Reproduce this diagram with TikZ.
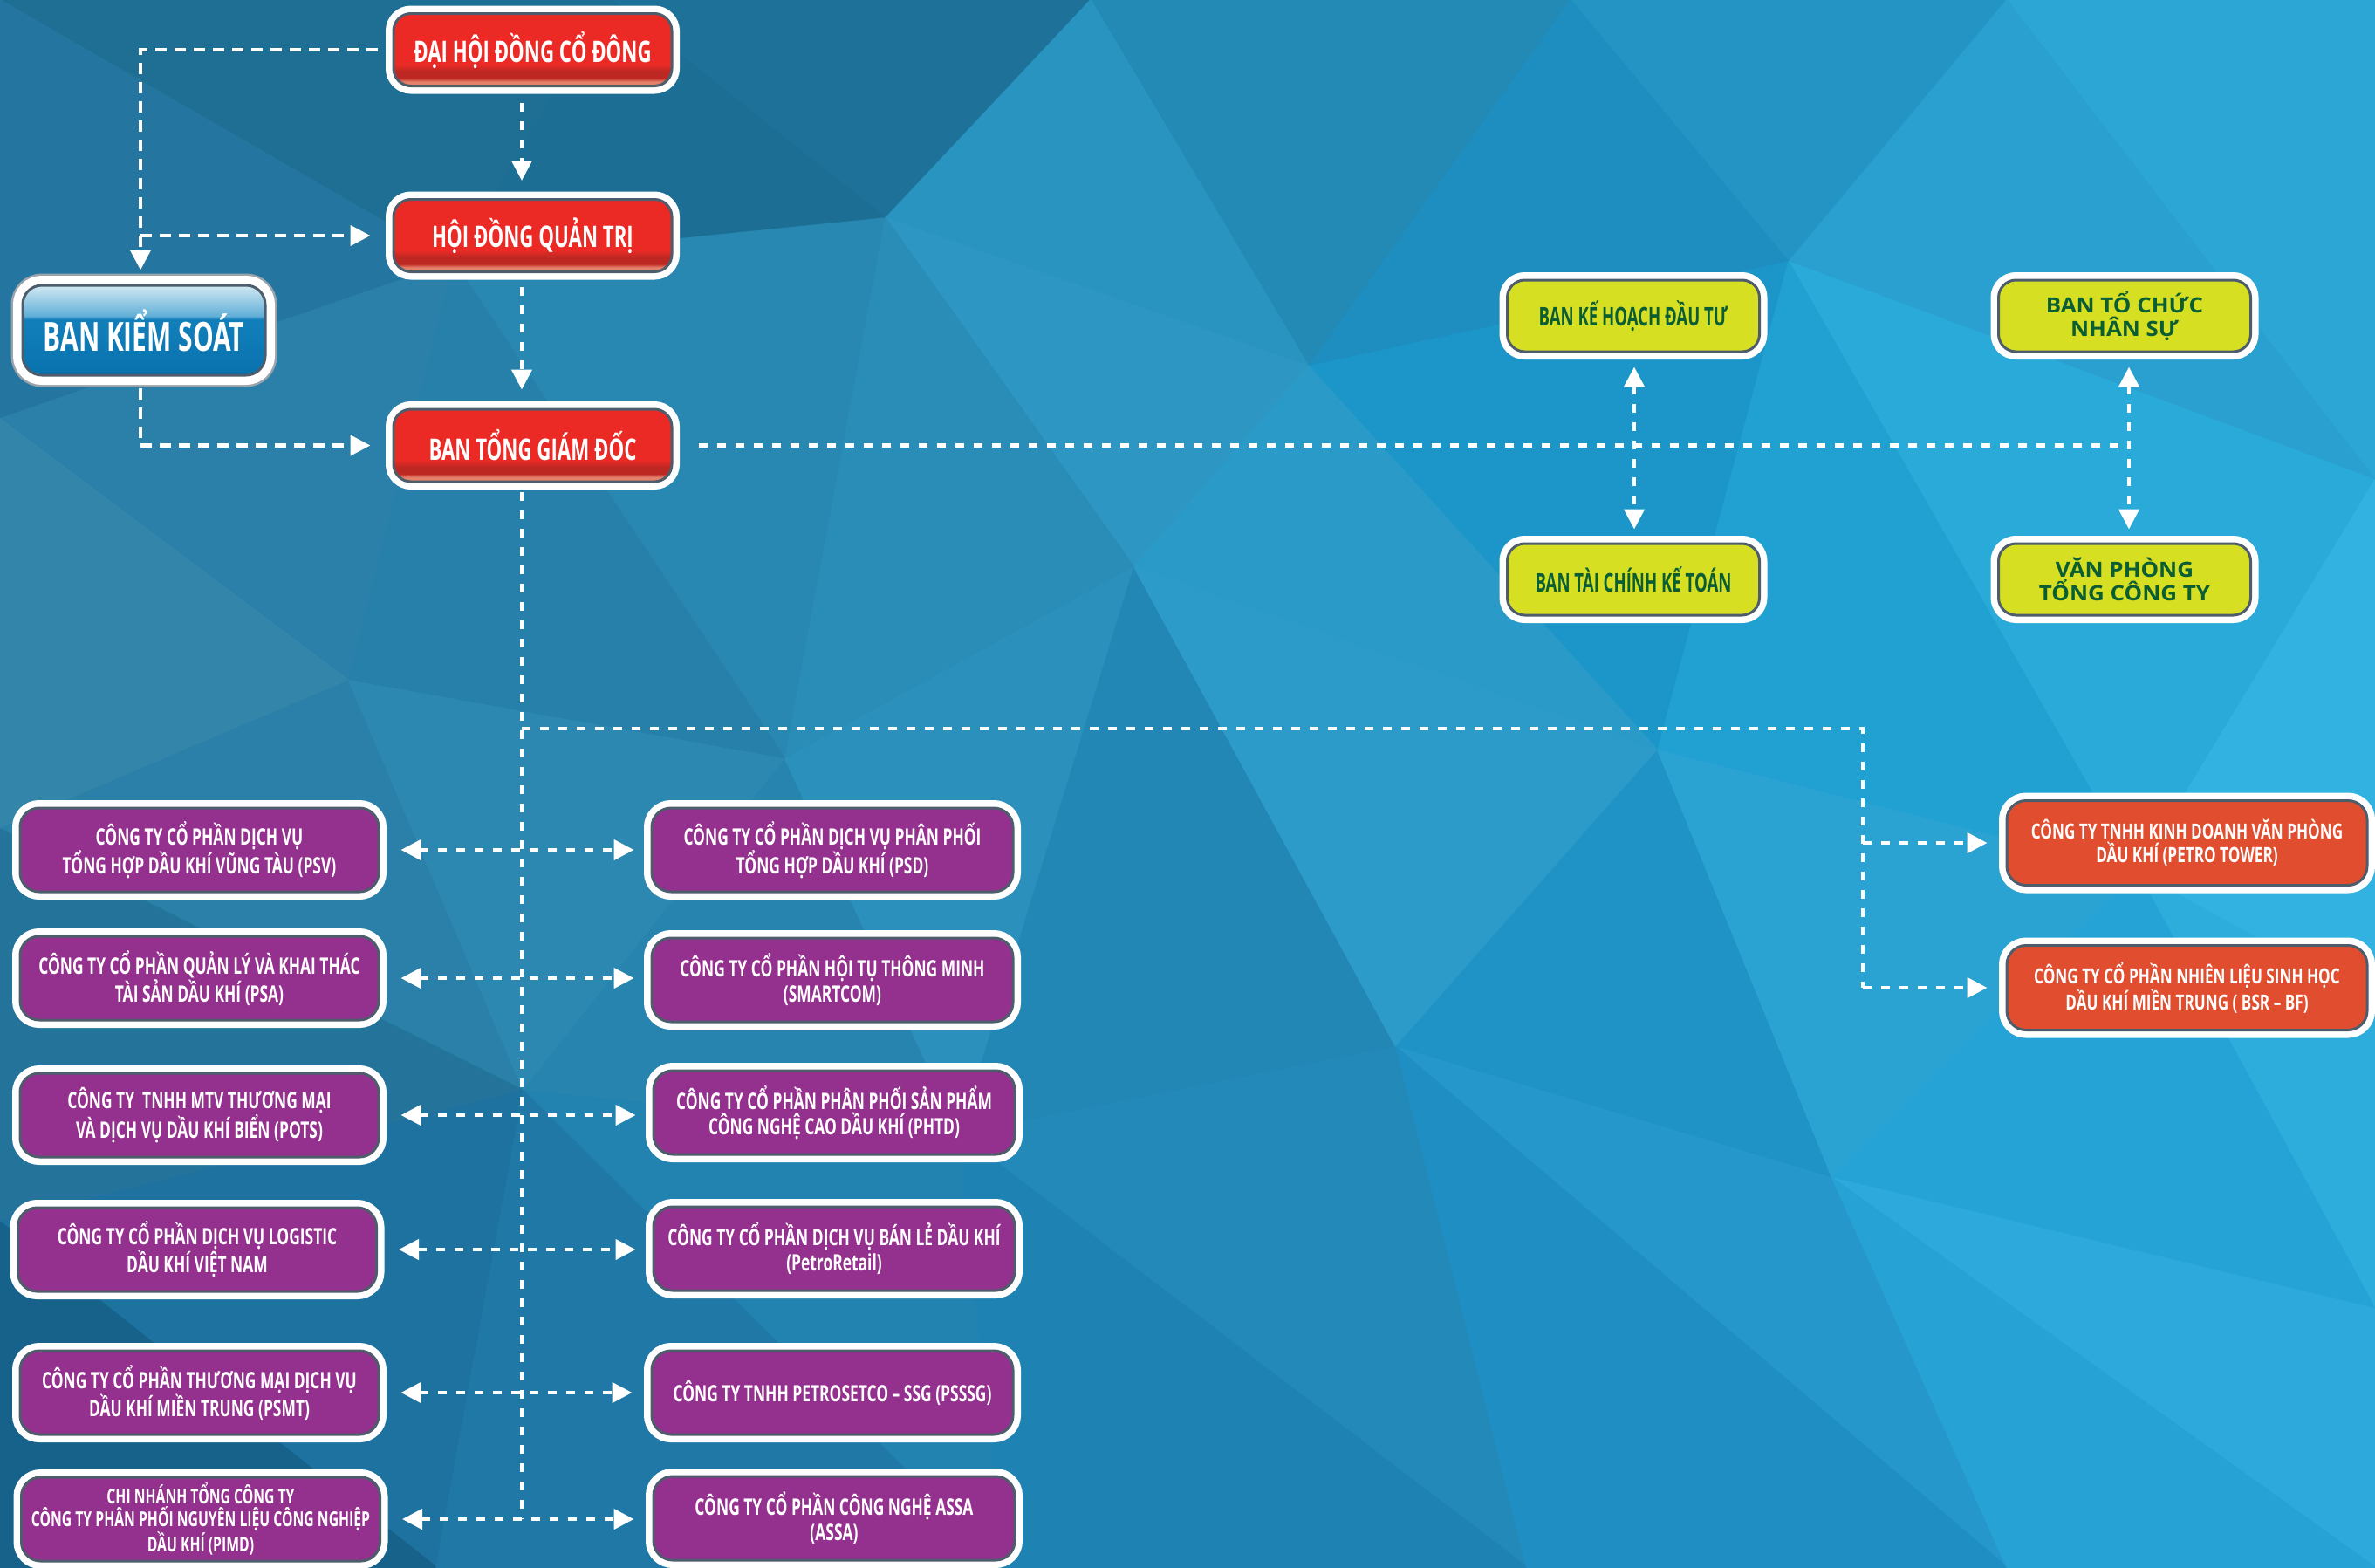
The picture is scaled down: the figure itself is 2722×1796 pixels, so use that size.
\documentclass[tikz,border=0pt]{standalone}
\usepackage{fontspec}
\newfontfamily\fR{Open Sans}[FakeStretch=0.655]
\newfontfamily\fB{Open Sans}[FakeStretch=0.65]
\newfontfamily\fY{Open Sans}[FakeStretch=0.63]
\newfontfamily\fW{Open Sans}[FakeStretch=1.08]
\newfontfamily\fP{Open Sans}[FakeStretch=0.67]
\newfontfamily\fO{Open Sans}[FakeStretch=0.715]
\usetikzlibrary{arrows.meta,calc}
\definecolor{edgeg}{HTML}{4E5D6C}
\definecolor{ringgray}{HTML}{9AA3AA}
\definecolor{redmain}{HTML}{EC2A25}
\definecolor{reddark}{HTML}{BD2823}
\definecolor{redlite}{HTML}{E5806A}
\definecolor{bluedk}{HTML}{0872AD}
\definecolor{bluemd}{HTML}{127FBB}
\definecolor{bluelt}{HTML}{62AFD8}
\definecolor{bluewt}{HTML}{D2E9F3}
\definecolor{purp}{HTML}{94318E}
\definecolor{yel}{HTML}{D6DF22}
\definecolor{ygreen}{HTML}{0B5E34}
\definecolor{orng}{HTML}{E14E2F}
\pgfdeclareverticalshading{redgloss}{100bp}{color(0bp)=(redlite); color(25bp)=(redlite); color(28bp)=(redlite); color(30.5bp)=(reddark); color(35bp)=(reddark); color(40bp)=(redmain); color(100bp)=(redmain)}
\pgfdeclareverticalshading{bluegloss}{100bp}{color(0bp)=(bluedk); color(25bp)=(bluedk); color(56bp)=(bluemd); color(58bp)=(bluelt); color(75bp)=(bluewt); color(100bp)=(bluewt)}
\newcommand{\bgtri}[4]{\definecolor{bgc}{HTML}{#1}\filldraw[fill=bgc,draw=bgc,line width=1.5pt,line join=round] (#2)--(#3)--(#4)--cycle;}
\tikzset{
 bx/.style={rounded corners=20pt, draw=edgeg, line width=3pt, align=center, inner sep=0pt, text=white, preaction={draw=white, line width=18pt}},
 redbx/.style={bx, shade, shading=redgloss, minimum width=319pt, minimum height=83pt, font=\fR\bfseries\fontsize{34}{38}\selectfont},
 bluebx/.style={bx, rounded corners=22pt, shade, shading=bluegloss, minimum width=278pt, minimum height=103pt, font=\fB\bfseries\fontsize{46}{50}\selectfont, preaction={draw=ringgray, line width=27pt}, preaction={draw=white, line width=22pt}},
 yelbx/.style={bx, fill=yel, text=ygreen, minimum width=289pt, minimum height=82pt, font=\fY\bfseries\fontsize{29.5}{33}\selectfont},
 yelwide/.style={font=\fW\bfseries\fontsize{24}{27}\selectfont},
 purbx/.style={bx, rounded corners=22pt, fill=purp, minimum height=96pt, font=\fP\bfseries\fontsize{26}{29}\selectfont},
 purL/.style={purbx, minimum width=411pt},
 purR/.style={purbx, minimum width=414pt},
 orbx/.style={bx, rounded corners=22pt, fill=orng, minimum width=413pt, minimum height=97pt, font=\fO\bfseries\fontsize{24}{27}\selectfont},
 lnk/.style={draw=white, line width=4.5pt, dash pattern=on 10pt off 11pt},
 lnkb/.style={draw=white, line width=4.5pt, dash pattern=on 13pt off 9pt},
 onearrow/.style={-{Triangle[length=23pt,width=23pt]}},
 twoarrow/.style={{Triangle[length=23pt,width=23pt]}-{Triangle[length=23pt,width=23pt]}},
}
\begin{document}
\begin{tikzpicture}[x=1pt,y=-1pt]
\useasboundingbox (0,0) rectangle (2722,1796);
\clip (0,0) rectangle (2722,1796);
% background vertices
\coordinate (vA) at (0,0); \coordinate (vB) at (700,0); \coordinate (vC) at (1250,0);
\coordinate (vD) at (1800,0); \coordinate (vE) at (2300,0); \coordinate (vF) at (2722,0);
\coordinate (vG) at (0,480); \coordinate (vH) at (520,300); \coordinate (vI) at (1015,250);
\coordinate (vJ) at (1500,420); \coordinate (vK) at (2050,300); \coordinate (vL) at (2722,550);
\coordinate (vM) at (0,950); \coordinate (vN) at (400,780); \coordinate (vO) at (900,870);
\coordinate (vP) at (1300,650); \coordinate (vQ) at (1900,860); \coordinate (vR) at (2450,1000);
\coordinate (vS) at (2722,1150);
\coordinate (vT) at (0,1400); \coordinate (vU) at (600,1250); \coordinate (vV) at (1100,1300);
\coordinate (vW) at (1600,1200); \coordinate (vX) at (2100,1350); \coordinate (vY) at (2722,1500);
\coordinate (vZ) at (0,1796); \coordinate (va) at (500,1796); \coordinate (vb) at (1150,1796);
\coordinate (vc) at (1750,1796); \coordinate (vd) at (2300,1796); \coordinate (ve) at (2722,1796);
\bgtri{1F6F95}{vA}{vB}{vH}
\bgtri{2476A0}{vA}{vH}{vG}
\bgtri{1E7199}{vB}{vC}{vI}
\bgtri{1C6E95}{vB}{vI}{vH}
\bgtri{2389B5}{vC}{vD}{vJ}
\bgtri{2A94C0}{vC}{vJ}{vI}
\bgtri{2494C4}{vD}{vE}{vK}
\bgtri{1E8DBF}{vD}{vK}{vJ}
\bgtri{2CA6D4}{vE}{vF}{vL}
\bgtri{29A0CF}{vE}{vL}{vK}
\bgtri{2A80A8}{vG}{vH}{vN}
\bgtri{3485AA}{vG}{vN}{vM}
\bgtri{2888B2}{vH}{vI}{vO}
\bgtri{2680AA}{vH}{vO}{vN}
\bgtri{2E96C2}{vI}{vJ}{vP}
\bgtri{2A8DB8}{vI}{vP}{vO}
\bgtri{1C96C8}{vJ}{vK}{vQ}
\bgtri{2A9BC8}{vJ}{vQ}{vP}
\bgtri{2AAAD8}{vK}{vL}{vR}
\bgtri{21A0D2}{vK}{vR}{vQ}
\bgtri{31B2E0}{vL}{vS}{vR}
\bgtri{2A80A8}{vM}{vN}{vU}
\bgtri{23739B}{vM}{vU}{vT}
\bgtri{2C88B0}{vN}{vO}{vU}
\bgtri{2784AE}{vO}{vV}{vU}
\bgtri{2C90BC}{vO}{vP}{vV}
\bgtri{2287B5}{vP}{vW}{vV}
\bgtri{2C9BCA}{vP}{vQ}{vW}
\bgtri{1F92C6}{vQ}{vX}{vW}
\bgtri{2AA2D2}{vQ}{vR}{vX}
\bgtri{2DADDC}{vR}{vS}{vY}
\bgtri{25A3D6}{vR}{vY}{vX}
\bgtri{1E72A0}{vT}{vU}{va}
\bgtri{17628A}{vT}{va}{vZ}
\bgtri{2283B0}{vU}{vV}{vb}
\bgtri{1F78A5}{vU}{vb}{va}
\bgtri{2389B8}{vV}{vW}{vc}
\bgtri{1E82B3}{vV}{vc}{vb}
\bgtri{2597CA}{vW}{vX}{vd}
\bgtri{1F8EC2}{vW}{vd}{vc}
\bgtri{2DAADB}{vX}{vY}{ve}
\bgtri{27A2D4}{vX}{ve}{vd}

% guide coordinates
\coordinate (sp) at (598,0);
\coordinate (lc) at (161,0);
\coordinate (lv) at (1873,0);
\coordinate (rv) at (2440,0);
\coordinate (rj) at (2135,835);
\coordinate (spend) at (598,1740);

% nodes
\node[redbx] (dhcd) at (610.5,57) {ĐẠI HỘI ĐỒNG CỔ ĐÔNG};
\node[redbx] (hdqt) at (610.5,270) {HỘI ĐỒNG QUẢN TRỊ};
\node[redbx] (btgd) at (610.5,510.5) {BAN TỔNG GIÁM ĐỐC};
\node[bluebx] (bks) at (165,378.5) {BAN KIỂM SOÁT};

\node[yelbx] (bkh) at (1872,362) {BAN KẾ HOẠCH ĐẦU TƯ};
\node[yelbx,yelwide] (btc) at (2435,362) {BAN TỔ CHỨC\\NHÂN SỰ};
\node[yelbx] (btckt) at (1872,664) {BAN TÀI CHÍNH KẾ TOÁN};
\node[yelbx,yelwide] (vp) at (2435,664) {VĂN PHÒNG\\TỔNG CÔNG TY};

\node[purL] (psv) at (228.5,974) {CÔNG TY CỔ PHẦN DỊCH VỤ\\TỔNG HỢP DẦU KHÍ VŨNG TÀU (PSV)};
\node[purL] (psa) at (228.5,1121) {CÔNG TY CỔ PHẦN QUẢN LÝ VÀ KHAI THÁC\\TÀI SẢN DẦU KHÍ (PSA)};
\node[purL] (pots) at (228.5,1278) {CÔNG TY\ \ TNHH MTV THƯƠNG MẠI\\VÀ DỊCH VỤ DẦU KHÍ BIỂN (POTS)};
\node[purL] (plog) at (226,1432) {CÔNG TY CỔ PHẦN DỊCH VỤ LOGISTIC\\DẦU KHÍ VIỆT NAM};
\node[purL] (psmt) at (228.5,1596) {CÔNG TY CỔ PHẦN THƯƠNG MẠI DỊCH VỤ\\DẦU KHÍ MIỀN TRUNG (PSMT)};
\node[purL,font=\fP\bfseries\fontsize{23.5}{26}\selectfont] (pimd) at (230,1741) {CHI NHÁNH TỔNG CÔNG TY\\CÔNG TY PHÂN PHỐI NGUYÊN LIỆU CÔNG NGHIỆP\\DẦU KHÍ (PIMD)};

\node[purR] (psd) at (954,974) {CÔNG TY CỔ PHẦN DỊCH VỤ PHÂN PHỐI\\TỔNG HỢP DẦU KHÍ (PSD)};
\node[purR] (smc) at (954,1123) {CÔNG TY CỔ PHẦN HỘI TỤ THÔNG MINH\\(SMARTCOM)};
\node[purR] (phtd) at (956,1275) {CÔNG TY CỔ PHẦN PHÂN PHỐI SẢN PHẨM\\CÔNG NGHỆ CAO DẦU KHÍ (PHTD)};
\node[purR] (prt) at (956,1431) {CÔNG TY CỔ PHẦN DỊCH VỤ BÁN LẺ DẦU KHÍ\\(PetroRetail)};
\node[purR] (psssg) at (954,1596) {CÔNG TY TNHH PETROSETCO – SSG (PSSSG)};
\node[purR] (assa) at (956,1740) {CÔNG TY CỔ PHẦN CÔNG NGHỆ ASSA\\(ASSA)};

\node[orbx] (ptw) at (2506.5,966) {CÔNG TY TNHH KINH DOANH VĂN PHÒNG\\DẦU KHÍ (PETRO TOWER)};
\node[orbx] (bsr) at (2506.5,1132) {CÔNG TY CỔ PHẦN NHIÊN LIỆU SINH HỌC\\DẦU KHÍ MIỀN TRUNG ( BSR – BF)};

% top-left connectors
\draw[lnkb,onearrow,shorten <=17pt,shorten >=16pt] (dhcd.west) -| (bks.north -| lc);
\draw[lnkb,onearrow,shorten >=25pt] (hdqt.west -| lc) -- (hdqt.west);
\draw[lnkb,onearrow,shorten <=13pt,shorten >=25pt] (bks.south -| lc) |- (btgd.west);

% spine
\draw[lnk,onearrow,shorten <=18pt,shorten >=20pt] (dhcd.south -| sp) -- (hdqt.north -| sp);
\draw[lnk,onearrow,shorten <=16pt,shorten >=21pt] (hdqt.south -| sp) -- (btgd.north -| sp);
\draw[lnk,shorten <=10pt] (btgd.south -| sp) -- (spend);

% right upper
\draw[lnk,shorten <=29pt] (btgd.east) -- (btgd.east -| rv);
\draw[lnk,twoarrow,shorten <=16pt,shorten >=15pt] (bkh.south -| lv) -- (btckt.north -| lv);
\draw[lnk,twoarrow,shorten <=16pt,shorten >=15pt] (btc.south -| rv) -- (vp.north -| rv);

% right lower
\draw[lnk] (rj -| sp) -- (rj) -- (rj |- bsr.west);
\draw[lnk,onearrow,shorten >=21pt] (rj |- ptw.west) -- (ptw.west);
\draw[lnk,onearrow,shorten >=21pt] (rj |- bsr.west) -- (bsr.west);

% subsidiaries
\draw[lnk,twoarrow,shorten <=24pt,shorten >=19pt] (psv.east) -- (psd.west);
\draw[lnk,twoarrow,shorten <=24pt,shorten >=19pt] (psa.east) -- (psa.east -| smc.west);
\draw[lnk,twoarrow,shorten <=24pt,shorten >=19pt] (pots.east) -- (pots.east -| phtd.west);
\draw[lnk,twoarrow,shorten <=24pt,shorten >=19pt] (plog.east) -- (plog.east -| prt.west);
\draw[lnk,twoarrow,shorten <=24pt,shorten >=21pt] (psmt.east) -- (psssg.west);
\draw[lnk,twoarrow,shorten <=24pt,shorten >=21pt] (pimd.east) -- (pimd.east -| assa.west);
\end{tikzpicture}
\end{document}
